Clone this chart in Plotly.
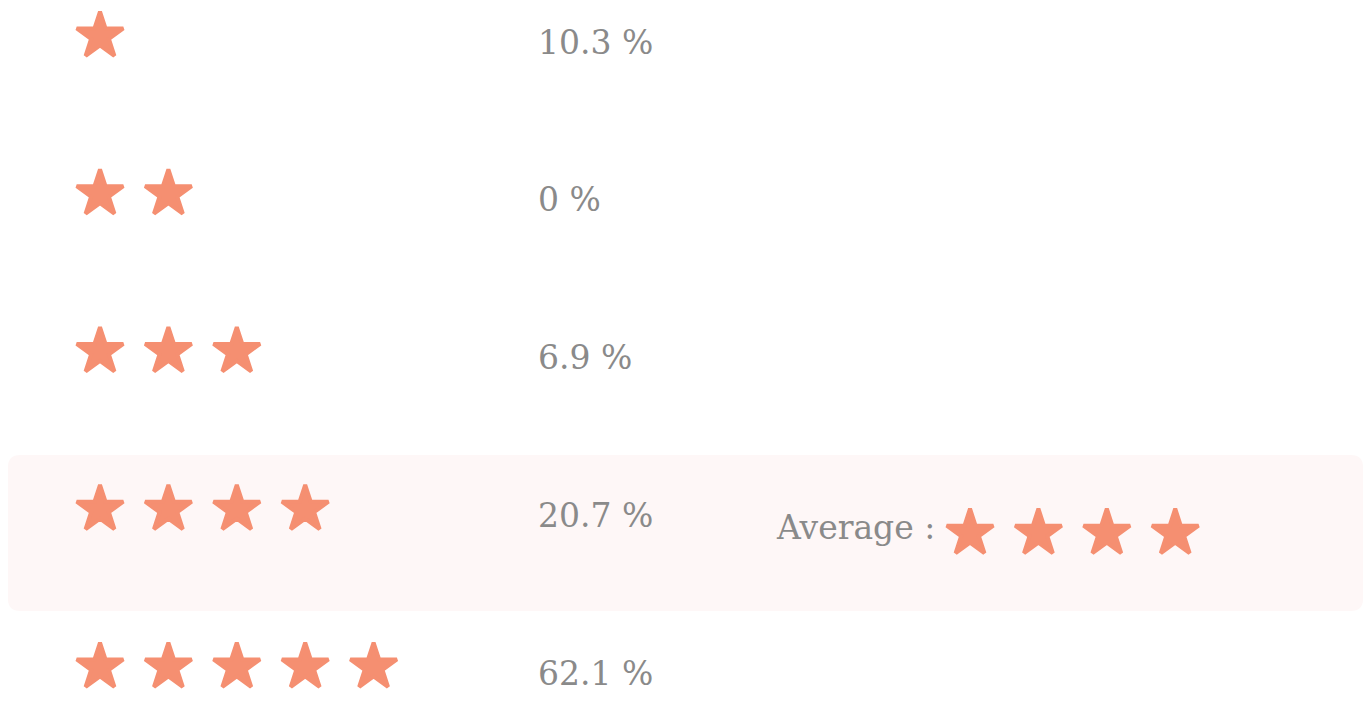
import plotly.graph_objects as go

# ---- data ----
ratings = [1, 2, 3, 4, 5]
percents = [10.3, 0, 6.9, 20.7, 62.1]
average_rating = 4
highlight_rating = 4

STAR_COLOR = "#f58f71"
TEXT_COLOR = "#8a8a8a"
HIGHLIGHT = "#fef7f7"
FONT = "DejaVu Serif"
W, H = 1372, 702

# axis scaling: 1 x-unit = one star step, 1 y-unit = one row
X_RANGE = [-0.345, 19.714]
Y_RANGE = [5.2726, 0.8225]
PCT_X = 7.374         # column of percentages (x units)
AVG_X0 = 13.72        # first star of the average (x units)
AVG_LABEL_X = 13.237  # right edge of "Average :" label
AVG_DY = 0.152

fig = go.Figure()

star_marker = dict(symbol="star", size=35, color=STAR_COLOR,
                   line=dict(color=STAR_COLOR, width=4))

# rating stars
sx, sy = [], []
for r in ratings:
    for k in range(1, r + 1):
        sx.append(k)
        sy.append(r)
fig.add_trace(go.Scatter(x=sx, y=sy, mode="markers", hoverinfo="skip",
                         marker=star_marker, cliponaxis=False))

# average stars
ax = [AVG_X0 + i for i in range(average_rating)]
ay = [average_rating + AVG_DY] * average_rating
fig.add_trace(go.Scatter(x=ax, y=ay, mode="markers", hoverinfo="skip",
                         marker=star_marker, cliponaxis=False))

# percentage labels
for r, p in zip(ratings, percents):
    lbl = f"{p:g} %"
    fig.add_annotation(x=PCT_X, y=r, xref="x", yref="y", text=lbl,
                       showarrow=False, xanchor="left", yanchor="middle",
                       yshift=-6, font=dict(family=FONT, size=33, color=TEXT_COLOR))

fig.add_annotation(x=AVG_LABEL_X, y=average_rating + AVG_DY, xref="x", yref="y",
                   text="Average :", showarrow=False, xanchor="right",
                   yanchor="middle", yshift=6,
                   font=dict(family=FONT, size=33, color=TEXT_COLOR))

# highlighted row (rounded rectangle) in paper coordinates
x0p, x1p, y0p, y1p, rad = 0, 1355, 447, 603, 12
def px(v): return v / W
def py(v): return 1 - v / H
path = (f"M {px(x0p+rad)},{py(y0p)} L {px(x1p-rad)},{py(y0p)} "
        f"Q {px(x1p)},{py(y0p)} {px(x1p)},{py(y0p+rad)} "
        f"L {px(x1p)},{py(y1p-rad)} Q {px(x1p)},{py(y1p)} {px(x1p-rad)},{py(y1p)} "
        f"L {px(x0p+rad)},{py(y1p)} Q {px(x0p)},{py(y1p)} {px(x0p)},{py(y1p-rad)} "
        f"L {px(x0p)},{py(y0p+rad)} Q {px(x0p)},{py(y0p)} {px(x0p+rad)},{py(y0p)} Z")
fig.add_shape(type="path", xref="paper", yref="paper", path=path,
              fillcolor=HIGHLIGHT, line=dict(width=0), layer="below")

fig.update_layout(
    width=W, height=H, margin=dict(l=0, r=0, t=0, b=0),
    paper_bgcolor="white", plot_bgcolor="white", showlegend=False,
    xaxis=dict(range=X_RANGE, visible=False, fixedrange=True),
    yaxis=dict(range=Y_RANGE, visible=False, fixedrange=True),
)
fig.write_html("out.html")
